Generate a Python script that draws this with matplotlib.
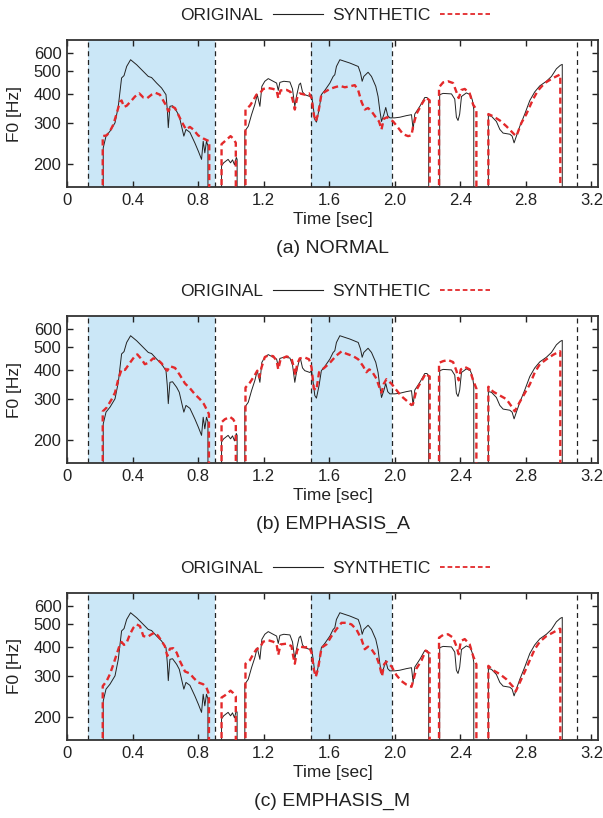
import numpy as np
import matplotlib
matplotlib.use("Agg")
import matplotlib.pyplot as plt
from matplotlib.lines import Line2D
from matplotlib.ticker import FixedLocator, NullLocator, FixedFormatter

plt.rcParams['font.family'] = ['Liberation Sans', 'DejaVu Sans']

# emphasis regions and phrase boundaries (sec)
shaded_spans = [(0.13, 0.90), (1.49, 1.98)]
boundaries = [0.13, 0.90, 1.49, 1.98, 3.11]

# original F0 contour, one list per voiced segment (sec / Hz)
orig_t = [
    [0.221, 0.238, 0.262, 0.293, 0.313, 0.333, 0.348, 0.364, 0.388, 0.425, 0.496, 0.516,
     0.547, 0.577, 0.604, 0.612, 0.618, 0.628, 0.644, 0.669, 0.685, 0.699, 0.713, 0.726,
     0.750, 0.780, 0.801, 0.821, 0.831, 0.841, 0.851, 0.860],
    [0.943, 0.956, 0.983, 0.998, 1.010, 1.022, 1.033, 1.038],
    [1.085, 1.106, 1.126, 1.146, 1.161, 1.177, 1.189, 1.207, 1.228, 1.258, 1.279, 1.289,
     1.299, 1.323, 1.360, 1.376, 1.390, 1.400, 1.416, 1.425, 1.437, 1.451, 1.482, 1.492,
     1.502, 1.512, 1.522, 1.538, 1.552, 1.573, 1.604, 1.624, 1.634, 1.644, 1.665, 1.695,
     1.726, 1.777, 1.791, 1.801, 1.811, 1.837, 1.858, 1.884, 1.898, 1.908, 1.919, 1.933,
     1.945, 1.957, 1.970, 2.000, 2.031, 2.071, 2.102, 2.112, 2.122, 2.153, 2.183, 2.197,
     2.207],
    [2.274, 2.295, 2.346, 2.366, 2.376, 2.386, 2.396, 2.407, 2.437, 2.461, 2.474, 2.482],
    [2.571, 2.590, 2.620, 2.641, 2.661, 2.702, 2.716, 2.728, 2.742, 2.763, 2.793, 2.824,
     2.854, 2.885, 2.925, 2.956, 2.986, 3.010, 3.022],
]
orig_f0 = [
    [235, 264, 277, 301, 354, 468, 479, 524, 560, 533, 475, 470,
     445, 424, 397, 343, 287, 354, 356, 337, 321, 291, 264, 282,
     274, 247, 228, 210, 251, 224, 251, 240],
    [197, 203, 210, 203, 209, 199, 214, 210],
    [277, 291, 326, 360, 397, 354, 431, 453, 465, 453, 445, 414,
     448, 453, 450, 420, 354, 390, 438, 445, 408, 397, 390, 397,
     354, 311, 303, 343, 397, 414, 445, 475, 483, 524, 560, 551,
     542, 524, 491, 453, 475, 495, 475, 431, 390, 343, 305, 326,
     350, 323, 316, 316, 318, 323, 326, 282, 328, 354, 386, 386,
     375],
    [397, 402, 400, 380, 318, 308, 328, 390, 404, 397, 375, 343],
    [323, 321, 305, 282, 272, 269, 264, 247, 264, 291, 328, 375,
     408, 433, 453, 475, 512, 530, 535],
]

# synthetic F0, (a) NORMAL
normal_t = [
    [0.218, 0.242, 0.262, 0.283, 0.303, 0.323, 0.333, 0.348, 0.364, 0.394, 0.415, 0.441,
     0.466, 0.490, 0.516, 0.541, 0.567, 0.587, 0.608, 0.618, 0.638, 0.659, 0.679, 0.699,
     0.726, 0.750, 0.770, 0.800, 0.831, 0.868],
    [0.943, 0.963, 0.998, 1.014, 1.030],
    [1.089, 1.116, 1.136, 1.156, 1.177, 1.197, 1.228, 1.258, 1.279, 1.289, 1.303, 1.340,
     1.364, 1.380, 1.390, 1.404, 1.420, 1.451, 1.477, 1.492, 1.506, 1.518, 1.532, 1.552,
     1.573, 1.604, 1.634, 1.665, 1.695, 1.726, 1.756, 1.777, 1.797, 1.817, 1.837, 1.858,
     1.884, 1.904, 1.919, 1.933, 1.953, 1.990, 2.020, 2.051, 2.081, 2.102, 2.112, 2.132,
     2.163, 2.189, 2.203, 2.213],
    [2.270, 2.295, 2.325, 2.356, 2.376, 2.390, 2.407, 2.427, 2.457, 2.478, 2.498],
    [2.571, 2.600, 2.641, 2.681, 2.728, 2.742, 2.773, 2.803, 2.844, 2.874, 2.915, 2.966,
     3.006, 3.010],
]
normal_f0 = [
    [264, 266, 277, 296, 330, 370, 375, 352, 356, 375, 390, 402,
     386, 384, 397, 404, 397, 375, 354, 337, 354, 348, 326, 305,
     282, 289, 282, 266, 258, 251],
    [244, 251, 264, 258, 247],
    [343, 356, 375, 397, 402, 420, 424, 420, 414, 384, 414, 416,
     408, 370, 343, 384, 402, 397, 402, 384, 326, 305, 328, 397,
     408, 420, 427, 433, 427, 431, 436, 414, 370, 343, 348, 337,
     318, 305, 282, 313, 318, 305, 287, 269, 264, 266, 291, 328,
     360, 386, 380, 375],
    [427, 448, 453, 445, 408, 384, 416, 420, 402, 360, 343],
    [328, 321, 308, 291, 269, 264, 301, 328, 380, 414, 445, 468,
     483, 483],
]

# synthetic F0, (b) EMPHASIS_A
emph_a_t = [
    [0.218, 0.242, 0.273, 0.293, 0.313, 0.333, 0.354, 0.384, 0.415, 0.429, 0.455, 0.475,
     0.496, 0.526, 0.551, 0.577, 0.604, 0.612, 0.628, 0.659, 0.689, 0.720, 0.750, 0.780,
     0.811, 0.835, 0.851, 0.866],
    [0.943, 0.963, 0.994, 1.014, 1.030],
    [1.089, 1.116, 1.146, 1.161, 1.173, 1.187, 1.207, 1.228, 1.258, 1.279, 1.289, 1.303,
     1.340, 1.370, 1.384, 1.394, 1.404, 1.420, 1.451, 1.477, 1.492, 1.506, 1.522, 1.538,
     1.573, 1.604, 1.644, 1.675, 1.705, 1.746, 1.777, 1.807, 1.827, 1.844, 1.858, 1.888,
     1.908, 1.919, 1.933, 1.949, 1.980, 2.010, 2.040, 2.071, 2.102, 2.112, 2.132, 2.163,
     2.189, 2.203, 2.213],
    [2.270, 2.295, 2.325, 2.356, 2.376, 2.390, 2.403, 2.427, 2.457, 2.478, 2.498],
    [2.571, 2.600, 2.641, 2.681, 2.716, 2.732, 2.752, 2.783, 2.824, 2.854, 2.885, 2.925,
     2.966, 3.006, 3.010],
]
emph_a_f0 = [
    [266, 276, 300, 320, 365, 402, 400, 429, 459, 466, 444, 423,
     429, 448, 444, 427, 402, 397, 415, 408, 380, 350, 334, 315,
     300, 286, 272, 259],
    [239, 246, 252, 246, 235],
    [336, 353, 380, 397, 372, 410, 454, 461, 458, 438, 402, 444,
     457, 448, 410, 380, 423, 448, 452, 444, 410, 333, 328, 391,
     410, 429, 461, 480, 469, 458, 444, 415, 391, 402, 397, 367,
     334, 320, 349, 365, 349, 328, 309, 296, 283, 287, 328, 359,
     386, 378, 375],
    [429, 436, 441, 432, 397, 361, 402, 412, 402, 361, 333],
    [339, 323, 311, 300, 277, 266, 283, 309, 347, 390, 423, 444,
     464, 480, 480],
]

# synthetic F0, (c) EMPHASIS_M
emph_m_t = [
    [0.218, 0.242, 0.262, 0.283, 0.303, 0.323, 0.333, 0.348, 0.364, 0.384, 0.405, 0.425,
     0.445, 0.466, 0.490, 0.516, 0.537, 0.557, 0.577, 0.597, 0.612, 0.628, 0.648, 0.669,
     0.689, 0.720, 0.750, 0.770, 0.800, 0.831, 0.851, 0.866],
    [0.943, 0.963, 0.998, 1.014, 1.030],
    [1.089, 1.116, 1.136, 1.156, 1.177, 1.197, 1.228, 1.258, 1.279, 1.289, 1.303, 1.340,
     1.370, 1.380, 1.390, 1.404, 1.420, 1.451, 1.477, 1.492, 1.506, 1.518, 1.532, 1.553,
     1.583, 1.614, 1.644, 1.675, 1.705, 1.736, 1.766, 1.797, 1.817, 1.837, 1.858, 1.888,
     1.908, 1.922, 1.935, 1.949, 1.980, 2.010, 2.040, 2.071, 2.102, 2.112, 2.132, 2.163,
     2.189, 2.203, 2.213],
    [2.270, 2.295, 2.325, 2.356, 2.376, 2.390, 2.403, 2.427, 2.457, 2.478, 2.498],
    [2.571, 2.600, 2.641, 2.681, 2.722, 2.738, 2.763, 2.793, 2.824, 2.854, 2.885, 2.925,
     2.966, 3.006, 3.010],
]
emph_m_f0 = [
    [272, 286, 306, 337, 372, 410, 420, 408, 417, 453, 483, 499,
     491, 445, 441, 453, 461, 445, 424, 403, 366, 393, 395, 378,
     348, 314, 308, 296, 282, 277, 268, 251],
    [243, 248, 260, 254, 246],
    [339, 351, 372, 391, 397, 421, 427, 421, 410, 370, 410, 413,
     403, 366, 339, 386, 401, 398, 401, 378, 321, 298, 323, 397,
     410, 445, 476, 507, 507, 499, 475, 431, 391, 401, 391, 364,
     332, 300, 337, 346, 330, 303, 286, 276, 270, 286, 323, 350,
     386, 379, 375],
    [438, 450, 453, 438, 403, 372, 424, 432, 410, 366, 337],
    [332, 318, 306, 291, 270, 258, 282, 313, 351, 391, 421, 445,
     461, 478, 478],
]

panels = [
    ("(a) NORMAL", normal_t, normal_f0),
    ("(b) EMPHASIS_A", emph_a_t, emph_a_f0),
    ("(c) EMPHASIS_M", emph_m_t, emph_m_f0),
]

UNVOICED = 100  # below the axis: draws the drop to the bottom
RED = '#e3292b'
SHADE = '#cbe7f7'


def draw_segments(ax, seg_t, seg_f0, **kw):
    for t, f in zip(seg_t, seg_f0):
        tt = [t[0]] + list(t) + [t[-1]]
        ff = [UNVOICED] + list(f) + [UNVOICED]
        ax.plot(tt, ff, **kw)


fig = plt.figure(figsize=(6.03, 8.18), dpi=100)
tops = [40, 316, 593]
ax_h = 147
for (caption, syn_t, syn_f0), top in zip(panels, tops):
    ax = fig.add_axes([67 / 603, 1 - (top + ax_h) / 818, 531 / 603, ax_h / 818])
    for a, b in shaded_spans:
        ax.axvspan(a, b, color=SHADE, lw=0, zorder=0)
    for x in boundaries:
        ax.axvline(x, color='#222222', lw=0.9, dashes=(4, 3), zorder=1)
    draw_segments(ax, orig_t, orig_f0, color='#222222', lw=0.7, zorder=2)
    draw_segments(ax, syn_t, syn_f0, color=RED, lw=1.7, dashes=(2.6, 1.6), zorder=3)

    ax.set_yscale('log')
    ax.set_ylim(160, 680)
    ax.set_xlim(0, 3.24)
    ax.yaxis.set_major_locator(FixedLocator([200, 300, 400, 500, 600]))
    ax.yaxis.set_major_formatter(FixedFormatter(['200', '300', '400', '500', '600']))
    ax.yaxis.set_minor_locator(NullLocator())
    ax.set_xticks(np.arange(0, 3.21, 0.4))
    ax.set_xticklabels(['0', '0.4', '0.8', '1.2', '1.6', '2.0', '2.4', '2.8', '3.2'])
    ax.tick_params(direction='in', top=True, right=True, length=4.5, width=1.0,
                   labelsize=12, colors='#222222', pad=4)
    for sp in ax.spines.values():
        sp.set_linewidth(1.3)
        sp.set_color('#333333')
    ax.set_xlabel('Time [sec]', fontsize=12.5, labelpad=3, color='#222222')
    ax.set_ylabel('F0 [Hz]', fontsize=12.5, labelpad=8, color='#222222')
    ax.text(0.5, -0.415, caption, transform=ax.transAxes, ha='center', va='center',
            fontsize=14, color='#222222')

    # legend samples as in the original gnuplot key (thin lines)
    h_orig = Line2D([], [], color='#222222', lw=0.8)
    h_syn = Line2D([], [], color=RED, lw=1.3, dashes=(2.6, 1.6))
    leg = ax.legend([h_orig, h_syn], ['ORIGINAL', 'SYNTHETIC'], loc='center',
                    bbox_to_anchor=(0.505, 1.165), ncol=2, frameon=False,
                    markerfirst=False, fontsize=12.5, handlelength=2.9,
                    handletextpad=0.55, columnspacing=0.5, borderpad=0)
    for txt in leg.get_texts():
        txt.set_color('#222222')

fig.savefig('out.png', dpi=100)
